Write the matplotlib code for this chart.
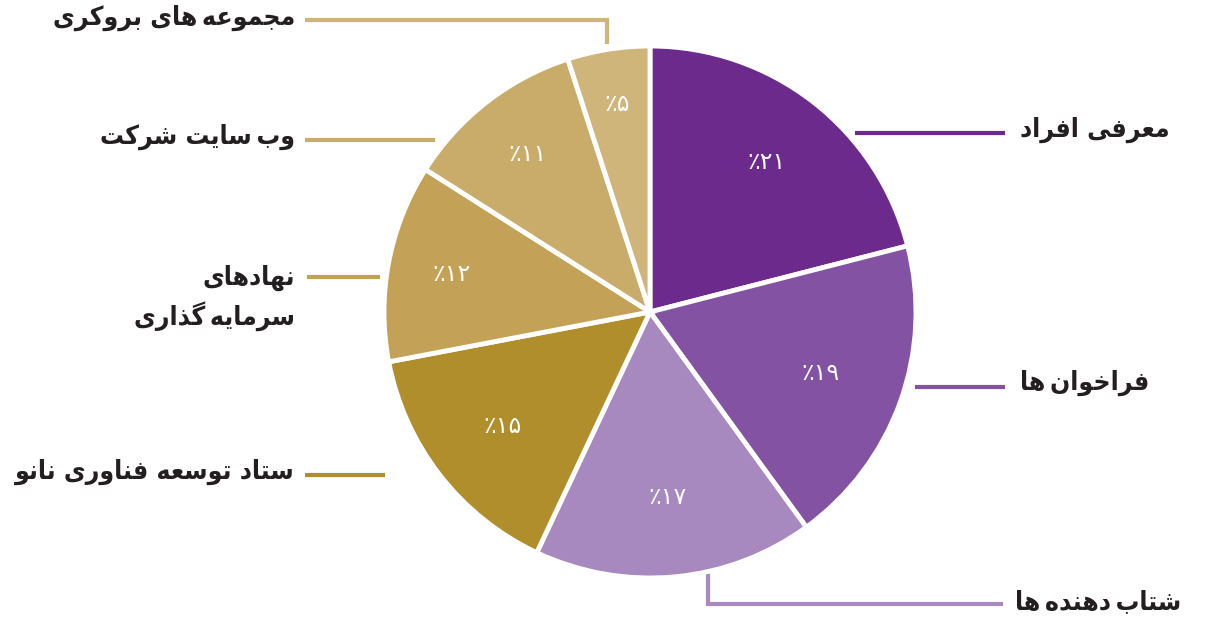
import matplotlib
matplotlib.use("Agg")
import matplotlib.pyplot as plt
import numpy as np

# ---------------- data ----------------
labels = ["معرفی افراد", "فراخوان‌ها", "شتاب‌دهنده‌ها", "ستاد توسعه فناوری نانو",
          "نهادهای\nسرمایه‌گذاری", "وب‌سایت شرکت", "مجموعه‌های بروکری"]
values = [21, 19, 17, 15, 12, 11, 5]
colors = ["#6B2A8C", "#8352A2", "#A889BF", "#B08E2C", "#C3A257", "#C9AC6A", "#CFB57A"]

# ------------- minimal Arabic/Persian shaper (visual order) -------------
FORMS = {  # isolated, final, initial, medial
    "ا": ("\uFE8D", "\uFE8E", None, None),
    "ب": ("\uFE8F", "\uFE90", "\uFE91", "\uFE92"),
    "ت": ("\uFE95", "\uFE96", "\uFE97", "\uFE98"),
    "ج": ("\uFE9D", "\uFE9E", "\uFE9F", "\uFEA0"),
    "خ": ("\uFEA5", "\uFEA6", "\uFEA7", "\uFEA8"),
    "د": ("\uFEA9", "\uFEAA", None, None),
    "ذ": ("\uFEAB", "\uFEAC", None, None),
    "ر": ("\uFEAD", "\uFEAE", None, None),
    "س": ("\uFEB1", "\uFEB2", "\uFEB3", "\uFEB4"),
    "ش": ("\uFEB5", "\uFEB6", "\uFEB7", "\uFEB8"),
    "ع": ("\uFEC9", "\uFECA", "\uFECB", "\uFECC"),
    "ف": ("\uFED1", "\uFED2", "\uFED3", "\uFED4"),
    "م": ("\uFEE1", "\uFEE2", "\uFEE3", "\uFEE4"),
    "ن": ("\uFEE5", "\uFEE6", "\uFEE7", "\uFEE8"),
    "ه": ("\uFEE9", "\uFEEA", "\uFEEB", "\uFEEC"),
    "و": ("\uFEED", "\uFEEE", None, None),
    "ی": ("\uFBFC", "\uFBFD", "\uFBFE", "\uFBFF"),
    "ک": ("\uFB8E", "\uFB8F", "\uFB90", "\uFB91"),
    "گ": ("\uFB92", "\uFB93", "\uFB94", "\uFB95"),
}


def dual(c):
    return c in FORMS and FORMS[c][2] is not None


def shape_line(s):
    out = []
    for i, c in enumerate(s):
        if c not in FORMS:
            out.append("\u2009" if c == "\u200c" else c)
            continue
        prev = s[i - 1] if i > 0 else None
        nxt = s[i + 1] if i + 1 < len(s) else None
        jp = prev is not None and dual(prev)
        jn = dual(c) and nxt in FORMS
        iso, fin, ini, med = FORMS[c]
        if jp and jn:
            g = med
        elif jp:
            g = fin
        elif jn:
            g = ini
        else:
            g = iso
        out.append(g)
    return "".join(reversed(out))


def shape(s):
    return "\n".join(shape_line(l) for l in s.split("\n"))


FA_DIGITS = str.maketrans("0123456789", "۰۱۲۳۴۵۶۷۸۹")


def pct_label(p):
    return "٪" + str(int(round(p))).translate(FA_DIGITS)


# ---------------- figure ----------------
W, H = 1212, 623
fig = plt.figure(figsize=(W / 100, H / 100), dpi=100)
ax = fig.add_axes([0, 0, 1, 1])


def Y(y):
    return H - y


cx, cy, R = 650, Y(312), 266

# leader lines (pixel-space layout)
leaders = [
    [(855, 133), (1005, 133)],
    [(915, 387), (1005, 387)],
    [(708, 566), (708, 604), (1003, 604)],
    [(385, 475), (305, 475)],
    [(380, 277), (307, 277)],
    [(435, 140), (305, 140)],
    [(607, 44), (607, 20), (305, 20)],
]
for pts, col in zip(leaders, colors):
    ax.plot([p[0] for p in pts], [Y(p[1]) for p in pts], color=col, lw=3,
            solid_capstyle="butt", solid_joinstyle="miter", zorder=1)

wedges, texts, autotexts = ax.pie(
    values, colors=colors, startangle=90, counterclock=False,
    center=(cx, cy), radius=R, autopct=pct_label, pctdistance=0.72,
    wedgeprops=dict(edgecolor="white", linewidth=3.5),
    textprops=dict(color="white", fontsize=17, family="DejaVu Sans"),
    frame=True,
)
for w in wedges:
    w.set_zorder(2)

# per-slice radial placement of the percentage labels
pct_r = [0.715, 0.68, 0.70, 0.70, 0.76, 0.75, 0.79]
for w, t, fr in zip(wedges, autotexts, pct_r):
    ang = np.deg2rad((w.theta1 + w.theta2) / 2)
    t.set_position((cx + fr * R * np.cos(ang), cy + fr * R * np.sin(ang)))
    t.set_zorder(3)

ax.set_xlim(0, W)
ax.set_ylim(0, H)
ax.set_aspect("equal")
ax.axis("off")

label_pos = [
    (1020, 130, "left"),
    (1020, 383, "left"),
    (1015, 602, "left"),
    (295, 472, "right"),
    (295, 298, "right"),
    (295, 137, "right"),
    (295, 18, "right"),
]
for lab, (x, y, ha) in zip(labels, label_pos):
    ax.text(x, Y(y), shape(lab), ha=ha, va="center", fontsize=19,
            family="DejaVu Sans", fontweight="semibold", fontstretch="condensed",
            color="#231F20", linespacing=1.4, multialignment="right")

fig.savefig("out.png", dpi=100, facecolor="white")
